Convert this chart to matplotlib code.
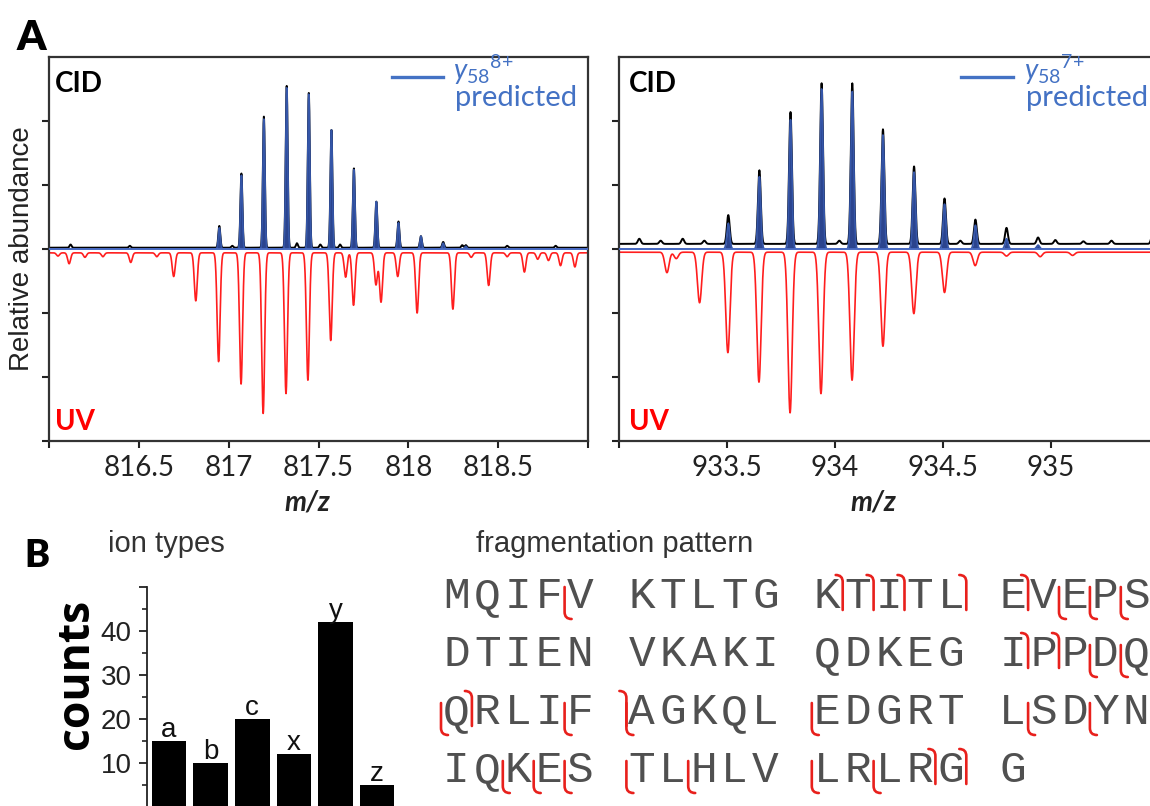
import numpy as np
import matplotlib
matplotlib.use("Agg")
import matplotlib.pyplot as plt
from matplotlib.path import Path
from matplotlib.patches import PathPatch

plt.rcParams['font.family'] = ['Lato', 'DejaVu Sans']
plt.rcParams['mathtext.fontset'] = 'custom'
plt.rcParams['mathtext.rm'] = 'Lato'
plt.rcParams['mathtext.it'] = 'Lato:italic'
plt.rcParams['mathtext.bf'] = 'Lato:bold'

# ---------------- data ----------------
# Panel A left: y58 8+
L_cid_mz = [816.948, 817.071, 817.196, 817.323, 817.446, 817.572, 817.697, 817.822, 817.945, 818.070, 818.194, 818.320]
L_cid_h = [0.34, 1.16, 2.05, 2.53, 2.42, 1.84, 1.24, 0.72, 0.41, 0.18, 0.09, 0.04]
L_pred_h = [0.33, 1.15, 2.03, 2.52, 2.42, 1.86, 1.24, 0.74, 0.41, 0.20, 0.09, 0.04]
L_cid_minor_mz = [816.12, 816.45, 817.02, 817.38, 817.51, 817.62, 818.30, 818.55, 818.82]
L_cid_minor_h = [0.05, 0.03, 0.03, 0.07, 0.05, 0.05, 0.04, 0.03, 0.03]
L_uv_mz = [816.05, 816.112, 816.20, 816.30, 816.455, 816.60, 816.694, 816.817, 816.944, 817.069,
           817.192, 817.319, 817.441, 817.568, 817.651, 817.695, 817.820, 817.848, 817.941,
           818.049, 818.248, 818.35, 818.447, 818.55, 818.646, 818.72, 818.78, 818.847, 818.927]
L_uv_h = [0.05, 0.17, 0.07, 0.06, 0.15, 0.06, 0.37, 0.75, 1.70, 2.05,
          2.51, 2.20, 1.99, 1.37, 0.38, 0.82, 0.50, 0.77, 0.37,
          0.94, 0.88, 0.07, 0.51, 0.06, 0.30, 0.10, 0.12, 0.20, 0.22]

# Panel A right: y58 7+
R_cid_mz = [933.506, 933.650, 933.794, 933.938, 934.080, 934.222, 934.366, 934.507, 934.650, 934.794, 934.940]
R_cid_h = [0.45, 1.15, 2.06, 2.51, 2.51, 1.79, 1.21, 0.71, 0.38, 0.25, 0.10]
R_pred_h = [0.40, 1.13, 2.02, 2.50, 2.46, 1.78, 1.20, 0.70, 0.37, 0.16, 0.06]
R_cid_minor_mz = [933.094, 933.193, 933.295, 933.395, 934.02, 934.58, 935.02, 935.15, 935.28, 935.47]
R_cid_minor_h = [0.08, 0.05, 0.08, 0.05, 0.05, 0.05, 0.06, 0.04, 0.05, 0.14]
R_uv_mz = [933.222, 933.265, 933.373, 933.504, 933.648, 933.792, 933.935, 934.079, 934.222,
           934.365, 934.507, 934.649, 934.794, 934.95, 935.1]
R_uv_h = [0.32, 0.10, 0.79, 1.57, 2.03, 2.51, 2.21, 2.00, 1.47,
          0.96, 0.63, 0.21, 0.06, 0.07, 0.05]

# Panel B: ion types
ion_types = ['a', 'b', 'c', 'x', 'y', 'z']
ion_counts = [15, 10, 20, 12, 42, 5]

# Panel B: fragmentation pattern
seq_rows = ["MQIFV KTLTG KTITL EVEPS",
            "DTIEN VKAKI QDKEG IPPDQ",
            "QRLIF AGKQL EDGRT LSDYN",
            "IQKES TLHLV LRLRG G"]
# (row, boundary index before character) – bottom-hook marks and top-hook marks
n_marks = [(0, 4), (0, 20), (0, 21), (0, 22), (1, 21), (1, 22), (2, 0), (2, 4), (2, 6), (2, 12),
           (2, 19), (2, 21), (3, 2), (3, 3), (3, 4), (3, 6), (3, 8), (3, 12), (3, 14)]
c_marks = [(0, 13), (0, 14), (0, 15), (0, 17), (0, 19), (1, 19), (1, 20), (2, 1), (2, 6),
           (3, 16), (3, 17)]

# ---------------- figure ----------------
W, H = 1150, 806
fig = plt.figure(figsize=(11.5, 8.06), dpi=100)
fig.patch.set_facecolor('white')


def fx(x):
    return x / W


def fy(y):
    return 1 - y / H


def profile(grid, centers, heights, sigma):
    out = np.zeros_like(grid)
    for c, h in zip(centers, heights):
        out += h * np.exp(-0.5 * ((grid - c) / sigma) ** 2)
    return out


def spectrum_axes(rect, xlim, ticks, labels, cid_mz, cid_h, pred_h, mn_mz, mn_h,
                  uv_mz, uv_h, cid_base, uv_base, sig):
    ax = fig.add_axes(rect)
    grid = np.linspace(xlim[0], xlim[1], 6000)
    pred = profile(grid, cid_mz, pred_h, sig)
    cid = cid_base + profile(grid, list(cid_mz) + list(mn_mz), list(cid_h) + list(mn_h), sig)
    uv = uv_base - profile(grid, uv_mz, uv_h, sig * 1.5)
    ax.plot(grid, uv, color='#ff1e1e', lw=1.2, zorder=1)
    ax.plot(grid, cid, color='black', lw=1.4, zorder=2)
    ax.fill_between(grid, 0, pred, color='#1f3a88', lw=0, alpha=0.95, zorder=3)
    ax.plot(grid, pred, color='#3556a8', lw=1.3, zorder=4)
    ax.plot(grid, np.zeros_like(grid), color='#4a6cc4', lw=1.3, zorder=4)
    ax.set_xlim(*xlim)
    ax.set_ylim(-3, 3)
    ax.set_xticks(ticks)
    ax.set_xticklabels(labels)
    ax.set_yticks([-3, -2, -1, 0, 1, 2])
    ax.set_yticklabels([])
    ax.tick_params(direction='out', length=5, width=1.5, labelsize=20, pad=5,
                   colors='#222222')
    for s in ax.spines.values():
        s.set_linewidth(1.6)
        s.set_color('#333333')
    return ax


axL = spectrum_axes([fx(49), fy(441), (588 - 49) / W, (441 - 57) / H], (816.0, 819.0),
                    [816, 816.5, 817, 817.5, 818, 818.5, 819],
                    ['', '816.5', '817', '817.5', '818', '818.5', ''],
                    L_cid_mz, L_cid_h, L_pred_h, L_cid_minor_mz, L_cid_minor_h,
                    L_uv_mz, L_uv_h, 0.02, -0.06, 0.0055)
axR = spectrum_axes([fx(619), fy(441), (1159 - 619) / W, (441 - 57) / H], (933.0, 935.5),
                    [933, 933.5, 934, 934.5, 935],
                    ['', '933.5', '934', '934.5', '935'],
                    R_cid_mz, R_cid_h, R_pred_h, R_cid_minor_mz, R_cid_minor_h,
                    R_uv_mz, R_uv_h, 0.08, -0.05, 0.0065)

# bar chart
axB = fig.add_axes([fx(147), fy(807), (398 - 147) / W, (807 - 587) / H])
xs = np.arange(len(ion_types))
axB.bar(xs, ion_counts, width=0.83, color='black')
for x, v, t in zip(xs, ion_counts, ion_types):
    axB.text(x, v + 1.0, t, ha='center', va='baseline', fontsize=20,
             family='Liberation Sans', color='#111111')
axB.set_xlim(-0.53, 5.5)
axB.set_ylim(0, 50)
axB.set_xticks([])
axB.set_yticks([10, 20, 30, 40, 50])
axB.set_yticklabels(['10', '20', '30', '40', ''], family='Liberation Sans')
axB.set_yticks([5, 15, 25, 35, 45], minor=True)
axB.tick_params(axis='y', which='major', length=6, width=1.3, labelsize=20, pad=5,
                colors='#222222')
axB.tick_params(axis='y', which='minor', length=3.5, width=1.2, colors='#222222')
for k in ['top', 'right', 'bottom']:
    axB.spines[k].set_visible(False)
axB.spines['left'].set_linewidth(1.3)
axB.spines['left'].set_color('#222222')

# overlay in pixel coordinates for free text
ov = fig.add_axes([0, 0, 1, 1], zorder=10)
ov.set_xlim(0, W)
ov.set_ylim(H, 0)
ov.axis('off')

blue = '#4472c4'
ov.text(17, 50, 'A', fontsize=30, fontweight='heavy', va='baseline', ha='left')
ov.text(24, 567, 'B', fontsize=27, fontweight='heavy', va='baseline', ha='left')
ov.text(22, 249, 'Relative abundance', rotation=90, fontsize=20, family='Liberation Sans',
        color='#222222', ha='center', va='center')
for x0 in (55, 629):
    ov.text(x0, 92, 'CID', fontsize=20, fontweight='bold', va='baseline', ha='left')
    ov.text(x0, 430, 'UV', fontsize=20, fontweight='bold', color='#ff0000',
            va='baseline', ha='left')
ov.text(307, 502, 'm/z', fontsize=20, fontweight='bold', style='italic', ha='center',
        va='center', color='#222222')
ov.text(873, 502, 'm/z', fontsize=20, fontweight='bold', style='italic', ha='center',
        va='center', color='#222222')

# legends
for (lx0, lx1, tx, charge) in [(392, 443, 453, '8'), (961, 1013, 1024, '7')]:
    ov.plot([lx0, lx1], [77, 77], color=blue, lw=2.4)
    ov.text(tx, 80, r'$y_{58}{}^{' + charge + '{+}}$', fontsize=20,
            color=blue, va='baseline', ha='left')
    ov.text(tx + 2, 106, 'predicted', fontsize=21, color=blue, va='baseline', ha='left')

# panel B titles
ov.text(108, 552, 'ion types', fontsize=21, family='Liberation Sans', color='#333333',
        va='baseline', ha='left')
ov.text(476, 552, 'fragmentation pattern', fontsize=21, family='Liberation Sans',
        color='#333333', va='baseline', ha='left')
ov.text(77, 674, 'counts', fontsize=32, family='Open Sans', fontweight='bold', rotation=90,
        ha='center', va='center', color='black')

# sequence
seq_x0 = 441.0
pitch = 30.9
row_c = [597, 655, 713, 771]
cap = 28
for r, row in enumerate(seq_rows):
    for i, ch in enumerate(row):
        if ch != ' ':
            ov.text(seq_x0 + pitch * (i + 0.5), row_c[r], ch, fontsize=32,
                    family='Liberation Mono', color='#505050', ha='center', va='center')

red = '#e8201c'
for r, e in n_marks:
    xe = seq_x0 + pitch * e
    top = row_c[r] - cap / 2 + 4
    base = row_c[r] + cap / 2
    p = Path([(xe, top), (xe, base + 1), (xe, base + 8), (xe + 7, base + 8)],
             [Path.MOVETO, Path.LINETO, Path.CURVE3, Path.CURVE3])
    ov.add_patch(PathPatch(p, fill=False, edgecolor=red, lw=1.9, capstyle='round'))
for r, e in c_marks:
    xe = seq_x0 + pitch * e
    top = row_c[r] - cap / 2
    base = row_c[r] + cap / 2 - 1
    p = Path([(xe - 7, top - 8), (xe, top - 8), (xe, top - 1), (xe, base)],
             [Path.MOVETO, Path.CURVE3, Path.CURVE3, Path.LINETO])
    ov.add_patch(PathPatch(p, fill=False, edgecolor=red, lw=1.9, capstyle='round'))

fig.savefig('out.png', dpi=100, facecolor='white')
